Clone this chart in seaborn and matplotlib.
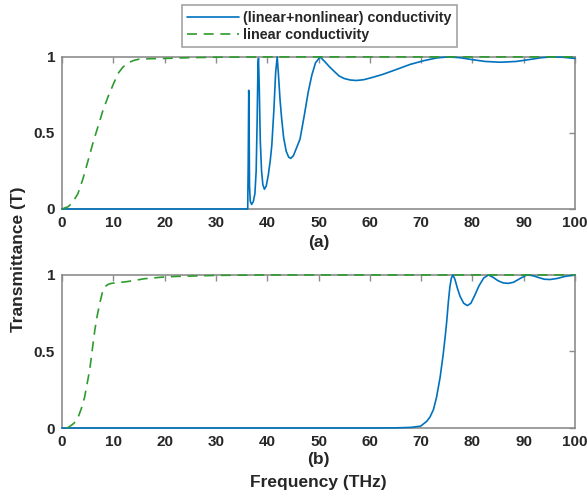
import numpy as np
import pandas as pd
import seaborn as sns
import matplotlib
matplotlib.use("Agg")
from matplotlib import pyplot as plt

# (a) linear + nonlinear conductivity
freq_a_nl = [0, 36.2, 36.3, 36.4, 36.45, 36.55, 36.7, 36.97, 37.3, 37.6, 37.85, 38.05,
             38.2, 38.3, 38.45, 38.65, 38.9, 39.15, 39.45, 39.8, 40.2, 40.6, 40.9, 41.3,
             41.65, 41.95, 42.2, 42.5, 42.8, 43.2, 43.7, 44.2, 44.6, 45.1, 45.7, 46.4,
             47.2, 48.0, 48.7, 49.4, 50.3, 51.2, 52.0, 52.9, 54.0, 55.0, 56.2, 57.4,
             58.8, 60.5, 62.6, 65.0, 67.8, 70.5, 73.0, 75.2, 77.5, 80.0, 82.5, 85.5,
             88.5, 91.0, 93.5, 95.5, 97.5, 100]
trans_a_nl = [0, 0, 0.30, 0.78, 0.70, 0.15, 0.05, 0.03, 0.05, 0.10, 0.25, 0.60,
              0.95, 0.99, 0.80, 0.45, 0.25, 0.16, 0.13, 0.15, 0.22, 0.32, 0.42, 0.65,
              0.90, 1.0, 0.88, 0.72, 0.60, 0.47, 0.38, 0.34, 0.333, 0.35, 0.40, 0.46,
              0.61, 0.77, 0.88, 0.96, 1.0, 0.97, 0.94, 0.91, 0.875, 0.858, 0.848, 0.845,
              0.85, 0.865, 0.886, 0.915, 0.95, 0.975, 0.993, 1.0, 0.995, 0.982, 0.970, 0.965,
              0.970, 0.982, 0.995, 1.0, 0.998, 0.99]

# (a) linear conductivity
freq_a_lin = [0, 1.2, 2.0, 3.1, 4.1, 5.1, 6.0, 7.0, 8.0, 9.0, 10.0, 10.9, 11.8, 12.8,
              14.0, 15.0, 17.0, 20.0, 25.0, 30.0, 40.0, 100]
trans_a_lin = [0, 0.015, 0.04, 0.10, 0.20, 0.32, 0.43, 0.54, 0.65, 0.74, 0.82, 0.89, 0.93, 0.96,
               0.977, 0.985, 0.988, 0.99, 0.995, 0.998, 1.0, 1.0]

# (b) linear + nonlinear conductivity
freq_b_nl = [0, 60, 65, 68, 69.9, 71.1, 71.7, 72.4, 73.0, 73.7, 74.3, 74.7, 75.0, 75.3,
             75.6, 75.9, 76.2, 76.6, 77.1, 77.6, 78.3, 79.0, 79.7, 80.5, 81.3, 82.2,
             83.1, 84.0, 85.0, 86.0, 87.0, 88.0, 89.2, 90.6, 91.8, 93.0, 94.0, 95.1,
             96.5, 98.0, 100]
trans_b_nl = [0, 0, 0.001, 0.004, 0.012, 0.044, 0.07, 0.12, 0.20, 0.33, 0.48, 0.60, 0.70, 0.82,
              0.92, 0.98, 1.0, 0.97, 0.91, 0.86, 0.815, 0.80, 0.815, 0.87, 0.93, 0.98,
              1.0, 0.985, 0.962, 0.948, 0.945, 0.952, 0.975, 1.0, 0.995, 0.982, 0.972, 0.97,
              0.977, 0.99, 1.0]

# (b) linear conductivity
freq_b_lin = [1.0, 1.5, 2.3, 3.1, 3.8, 4.4, 4.9, 5.4, 5.9, 6.4, 6.9, 7.4, 7.9, 8.3, 8.9,
              9.6, 11.0, 12.8, 14.5, 16.0, 19.3, 22.0, 30.0, 40.0, 100]
trans_b_lin = [0.0, 0.01, 0.03, 0.066, 0.13, 0.20, 0.29, 0.38, 0.51, 0.64, 0.74, 0.82, 0.89, 0.92, 0.937,
               0.945, 0.95, 0.957, 0.966, 0.975, 0.985, 0.99, 0.997, 1.0, 1.0]

x_ticks = list(range(0, 101, 10))
y_ticks = [0, 0.5, 1]
y_ticklabels = ["0", "0.5", "1"]

blue = "#0072BD"
green = "#2E9B2E"
frame = "#8C8C8C"
textc = "#262626"

sns.set_style("white")
plt.rcParams["font.family"] = ["Liberation Sans", "DejaVu Sans"]
plt.rcParams["font.weight"] = "bold"

fig = plt.figure(figsize=(5.87, 4.97), dpi=100)
ax1 = fig.add_axes([0.1056, 0.5795, 0.874, 0.306])
ax2 = fig.add_axes([0.1056, 0.1388, 0.874, 0.308])

panels = [
    (ax1, freq_a_nl, trans_a_nl, freq_a_lin, trans_a_lin, "(a)", 0.513),
    (ax2, freq_b_nl, trans_b_nl, freq_b_lin, trans_b_lin, "(b)", 0.076),
]

for ax, fx, fy, lx, ly, tag, tag_y in panels:
    sns.lineplot(x=fx, y=fy, ax=ax, color=blue, linewidth=1.2,
                 label="(linear+nonlinear) conductivity", clip_on=False, zorder=3)
    sns.lineplot(x=lx, y=ly, ax=ax, color=green, linewidth=1.2,
                 label="linear conductivity", clip_on=False, zorder=4)
    ax.lines[-1].set_dashes((6, 4))
    ax.set_xlim(0, 100)
    ax.set_ylim(0, 1)
    ax.set_xticks(x_ticks)
    ax.set_yticks(y_ticks)
    ax.set_yticklabels(y_ticklabels)
    ax.tick_params(direction="in", length=4, width=1, color=frame, top=True, right=True,
                   labelsize=11, labelcolor=textc, pad=5)
    for lab in ax.get_xticklabels() + ax.get_yticklabels():
        lab.set_fontweight("bold")
    for sp in ax.spines.values():
        sp.set_color(frame)
        sp.set_linewidth(1.2)
        sp.set_zorder(2)
    ax.set_xlabel("")
    ax.set_ylabel("")
    ax.get_legend().remove()
    fig.text(0.5426, tag_y, tag, ha="center", va="center",
             fontsize=12.5, fontweight="bold", color=textc)

handles, labels = ax1.get_legend_handles_labels()
leg = fig.legend(handles, labels, loc="upper center", bbox_to_anchor=(0.544, 1.004),
                 frameon=True, fancybox=False, handlelength=3.6,
                 handletextpad=0.3, borderpad=0.4, labelspacing=0.2,
                 prop={"weight": "bold", "size": 10.3})
leg.get_frame().set_edgecolor(frame)
leg.get_frame().set_linewidth(1.2)
for t in leg.get_texts():
    t.set_color(textc)

fig.text(0.031, 0.478, "Transmittance (T)", rotation=90, ha="center", va="center",
         fontsize=12.5, fontweight="bold", color=textc)
fig.text(0.5426, 0.030, "Frequency (THz)", ha="center", va="center",
         fontsize=12.5, fontweight="bold", color=textc)

fig.savefig("out.png", dpi=100)
